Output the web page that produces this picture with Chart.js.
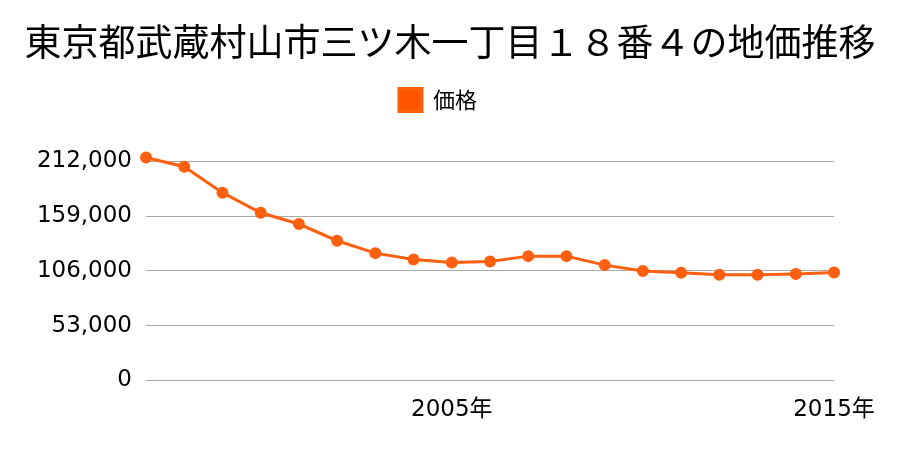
<!DOCTYPE html>
<html><head><meta charset="utf-8">
<script src="https://cdn.jsdelivr.net/npm/chart.js@4"></script>
<style>html,body{margin:0;padding:0;background:#fff}#c{width:900px;height:450px}</style>
</head><body><div id="c"><canvas id="cv" width="900" height="450"></canvas></div>
<script>
const titleText = '東京都武蔵村山市三ツ木一丁目１８番４の地価推移';
const seriesName = '価格';
const years = ['1997','1998','1999','2000','2001','2002','2003','2004','2005','2006','2007','2008','2009','2010','2011','2012','2013','2014','2015'];
const prices = [215700,206900,181700,162300,151400,135200,123200,117100,114200,115200,120300,120300,111600,106000,104100,102200,102200,103100,104500];
const yTicks = [0,53000,106000,159000,212000];
const shownYears = ['2005','2015'];
const cjk = '"Noto Sans CJK JP","Noto Sans",sans-serif';
const num = '"DejaVu Sans","Noto Sans CJK JP",sans-serif';

const legendGap = {
  id: 'legendGap',
  beforeInit(chart) {
    const fit = chart.legend.fit;
    chart.legend.fit = function() { fit.call(this); this.height += 40; };
  },
  afterLayout(chart) {
    chart.legend.left -= 12; chart.legend.right -= 12;
  }
};

new Chart(document.getElementById('cv'), {
  type: 'line',
  plugins: [legendGap],
  data: { labels: years, datasets: [{
    label: seriesName, data: prices,
    borderColor: '#ff6010', backgroundColor: '#ff5500',
    pointBackgroundColor: '#ff6010', pointBorderColor: '#ff6010',
    borderWidth: 3, pointRadius: 4.5, tension: 0, clip: false
  }]},
  options: {
    responsive: false, animation: false,
    layout: { padding: { left: 10, right: 10, top: 0, bottom: 18 } },
    plugins: {
      title: { display: true, text: titleText, color: '#000', font: { family: cjk, size: 37, weight: 'normal' }, padding: { top: 20, bottom: 14 } },
      legend: { labels: { color: '#000', font: { family: cjk, size: 22 }, boxWidth: 23, boxHeight: 23, padding: 10 } },
      tooltip: { enabled: false }
    },
    scales: {
      x: {
        grid: { display: false }, border: { display: false },
        afterFit: (ax) => { ax.paddingRight = 66; },
        ticks: { autoSkip: false, maxRotation: 0, color: '#000', padding: 8, font: { family: num, size: 23 },
          callback: function(v, i) { const y = years[i]; return shownYears.includes(y) ? y + '年' : ''; } }
      },
      y: {
        min: 0, max: 212000,
        afterBuildTicks: (ax) => { ax.ticks = yTicks.map(v => ({ value: v })); },
        afterFit: (ax) => { ax.width = 136; },
        grid: { color: '#aaaaaa', drawTicks: false, lineWidth: 1 }, border: { display: false },
        ticks: { color: '#000', padding: 14, font: { family: num, size: 23 },
          callback: v => v.toLocaleString('en-US') }
      }
    }
  }
});
</script></body></html>
